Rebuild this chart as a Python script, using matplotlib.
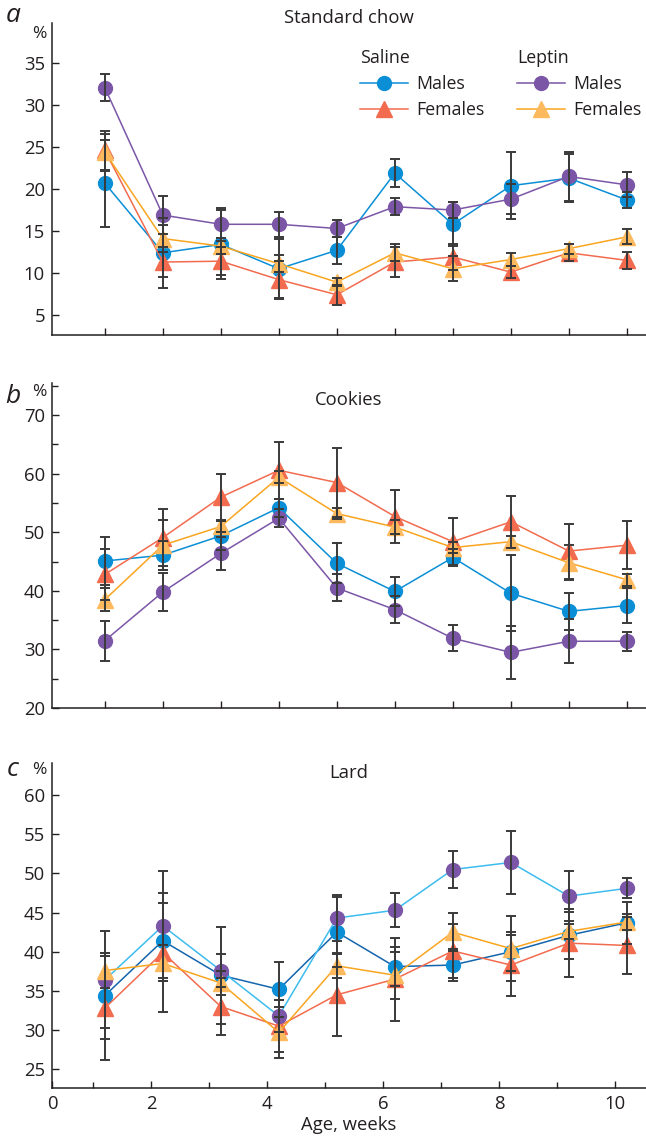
import numpy as np
import matplotlib
matplotlib.use("Agg")
import matplotlib.pyplot as plt

plt.rcParams['font.family'] = ['Open Sans', 'DejaVu Sans']

# weeks (points sit slightly to the right of the integer ticks)
weeks = [1.2, 2.2, 3.2, 4.2, 5.2, 6.2, 7.2, 8.2, 9.2, 10.2]

# panel a: standard chow
chow_sal_m = [20.7, 12.4, 13.4, 10.5, 12.7, 21.9, 15.8, 20.4, 21.3, 18.7]
chow_sal_m_err = [5.2, 4.2, 4.1, 3.6, 1.6, 1.7, 2.6, 4.0, 2.9, 0.9]
chow_sal_f = [24.6, 11.3, 11.4, 9.2, 7.4, 11.3, 11.9, 10.1, 12.4, 11.5]
chow_sal_f_err = [2.3, 1.8, 1.7, 2.2, 1.2, 1.8, 1.6, 0.7, 1.0, 1.0]
chow_lep_m = [32.1, 16.9, 15.8, 15.8, 15.3, 17.9, 17.5, 18.8, 21.5, 20.5]
chow_lep_m_err = [1.6, 2.3, 2.0, 1.5, 1.0, 1.0, 1.0, 1.8, 2.9, 1.5]
chow_lep_f = [24.4, 14.1, 13.2, 11.1, 8.9, 12.4, 10.5, 11.6, 12.9, 14.3]
chow_lep_f_err = [2.2, 1.6, 1.0, 1.0, 0.5, 1.0, 1.5, 0.8, 0.6, 0.9]

# panel b: cookies
cook_sal_m = [45.1, 46.1, 49.4, 54.2, 44.7, 39.9, 45.7, 39.6, 36.5, 37.5]
cook_sal_m_err = [4.1, 2.5, 2.5, 1.5, 3.4, 2.4, 1.4, 6.5, 3.1, 3.0]
cook_sal_f = [42.8, 49.1, 56.0, 60.6, 58.5, 52.7, 48.4, 51.8, 46.8, 47.8]
cook_sal_f_err = [4.4, 4.9, 3.9, 4.9, 5.9, 4.6, 4.0, 4.4, 4.7, 4.1]
cook_lep_m = [31.5, 39.8, 46.4, 52.4, 40.5, 36.8, 31.9, 29.5, 31.4, 31.4]
cook_lep_m_err = [3.4, 3.3, 2.8, 1.5, 2.3, 2.3, 2.2, 4.5, 3.8, 1.6]
cook_lep_f = [38.5, 47.8, 51.0, 59.4, 53.2, 50.9, 47.4, 48.4, 44.8, 41.9]
cook_lep_f_err = [2.0, 4.3, 1.0, 1.0, 1.0, 1.2, 1.0, 1.0, 3.0, 1.0]

# panel c: lard
lard_sal_m = [34.4, 41.4, 37.0, 35.2, 42.5, 38.1, 38.3, 40.0, 42.1, 43.7]
lard_sal_m_err = [5.5, 4.8, 6.2, 3.5, 4.5, 2.5, 2.0, 2.5, 3.0, 2.7]
lard_sal_f = [32.8, 39.9, 33.0, 30.5, 34.5, 36.5, 40.1, 38.3, 41.1, 40.8]
lard_sal_f_err = [6.6, 7.6, 3.6, 3.3, 5.3, 5.3, 3.5, 3.9, 4.3, 3.6]
lard_lep_m = [36.4, 43.3, 37.6, 31.8, 44.3, 45.3, 50.5, 51.4, 47.1, 48.1]
lard_lep_m_err = [6.2, 7.0, 2.1, 2.0, 2.9, 2.2, 2.3, 4.0, 3.2, 1.3]
lard_lep_f = [37.6, 38.5, 36.0, 29.7, 38.2, 37.0, 42.5, 40.4, 42.6, 43.8]
lard_lep_f_err = [2.2, 2.3, 1.5, 3.3, 1.5, 3.0, 2.4, 4.2, 1.0, 1.0]

C_BLUE = '#0a8fd6'
C_RED = '#f26b4e'
C_PURPLE = '#7b56a7'
C_ORANGE = '#fcb95e'
C_ORANGE_LINE = '#f9a520'
C_ERR = '#3a3a3a'
C_AX = '#231f20'
FS = 13.3

W, H = 646, 1137
fig = plt.figure(figsize=(W / 100, H / 100), dpi=100)


def fig_box(left, top, right, bottom):
    return [left / W, 1 - bottom / H, (right - left) / W, (bottom - top) / H]


def draw_series(ax, y, err, mcolor, lcolor, marker, ms):
    ln, = ax.plot(weeks, y, color=lcolor, lw=1.1, marker=marker, ms=ms,
                  mfc=mcolor, mec=mcolor, zorder=3)
    ax.errorbar(weeks, y, yerr=err, fmt='none', ecolor=C_ERR, elinewidth=1.4,
                capsize=3.5, capthick=1.4, zorder=4)
    return ln


def style_axes(ax, ylim, yticks, yminor=None):
    ax.set_xlim(0.29, 10.53)
    ax.set_ylim(*ylim)
    ax.set_yticks(yticks)
    if yminor is not None:
        ax.set_yticks(yminor, minor=True)
    for s in ('top', 'right'):
        ax.spines[s].set_visible(False)
    for s in ('left', 'bottom'):
        ax.spines[s].set_color(C_AX)
        ax.spines[s].set_linewidth(1.1)
    ax.tick_params(direction='in', length=5, width=1.0, color=C_AX,
                   labelsize=FS, labelcolor=C_AX, pad=5)
    ax.tick_params(which='minor', direction='in', length=4, width=1.0, color=C_AX)
    ax.patch.set_alpha(0)


panels = [
    ('a', 'Standard chow', fig_box(52, 23, 646, 335), (2.6, 39.8),
     [5, 10, 15, 20, 25, 30, 35], None,
     (chow_sal_m, chow_sal_m_err, chow_sal_f, chow_sal_f_err,
      chow_lep_m, chow_lep_m_err, chow_lep_f, chow_lep_f_err), 18, 34),
    ('b', 'Cookies', fig_box(52, 383, 646, 708), (20, 75.5),
     [20, 30, 40, 50, 60, 70], [25, 35, 45, 55, 65, 75],
     (cook_sal_m, cook_sal_m_err, cook_sal_f, cook_sal_f_err,
      cook_lep_m, cook_lep_m_err, cook_lep_f, cook_lep_f_err), 400, 392),
    ('c', 'Lard', fig_box(52, 763, 646, 1088), (22.6, 64.1),
     [25, 30, 35, 40, 45, 50, 55, 60], None,
     (lard_sal_m, lard_sal_m_err, lard_sal_f, lard_sal_f_err,
      lard_lep_m, lard_lep_m_err, lard_lep_f, lard_lep_f_err), 773, 770),
]

for letter, title, box, ylim, yt, ymin, data, title_y, pct_y in panels:
    ax = fig.add_axes(box)
    sm, sme, sf, sfe, lm, lme, lf, lfe = data
    if letter == 'c':
        sm_line, lm_line = '#1565ad', '#3dbcee'
    else:
        sm_line, lm_line = C_BLUE, C_PURPLE
    h_sm = draw_series(ax, sm, sme, C_BLUE, sm_line, 'o', 10)
    h_sf = draw_series(ax, sf, sfe, C_RED, C_RED, '^', 11)
    h_lm = draw_series(ax, lm, lme, C_PURPLE, lm_line, 'o', 10)
    h_lf = draw_series(ax, lf, lfe, C_ORANGE, C_ORANGE_LINE, '^', 11)
    style_axes(ax, ylim, yt, ymin)

    if letter == 'c':
        ax.set_xticks([0.29, 2, 4, 6, 8, 10], labels=['0', '2', '4', '6', '8', '10'])
        ax.set_xticks([1, 3, 5, 7, 9], minor=True)
        ax.set_xlabel('Age, weeks', fontsize=FS, color=C_AX, labelpad=2)
    else:
        ax.set_xticks(weeks, labels=[])

    fig.text(349 / W, 1 - title_y / H, title, ha='center', va='center',
             fontsize=FS, color=C_AX)
    fig.text(39 / W, 1 - pct_y / H, '%', ha='center', va='center',
             fontsize=12.5, color=C_AX)
    fig.text(13 / W, 1 - (title_y - 3 if letter != 'a' else 15) / H, letter,
             ha='center', va='center', fontsize=19, style='italic', color=C_AX)

    if letter == 'a':
        # legend: saline vs leptin, males / females
        kw = dict(frameon=False, loc='upper left', borderpad=0, borderaxespad=0,
                  fontsize=12.8, title_fontsize=12.8, handlelength=2.7,
                  handletextpad=0.45, labelspacing=0.45, numpoints=1,
                  alignment='left', bbox_transform=fig.transFigure,
                  labelcolor=C_AX)
        leg1 = ax.legend([h_sm, h_sf], ['Males', 'Females'], title='Saline',
                         bbox_to_anchor=(360 / W, 1 - 49 / H), **kw)
        ax.add_artist(leg1)
        leg2 = ax.legend([h_lm, h_lf], ['Males', 'Females'], title='Leptin',
                         bbox_to_anchor=(517 / W, 1 - 49 / H), **kw)
        for lg in (leg1, leg2):
            lg.get_title().set_color(C_AX)

fig.savefig('out.png', dpi=100)
